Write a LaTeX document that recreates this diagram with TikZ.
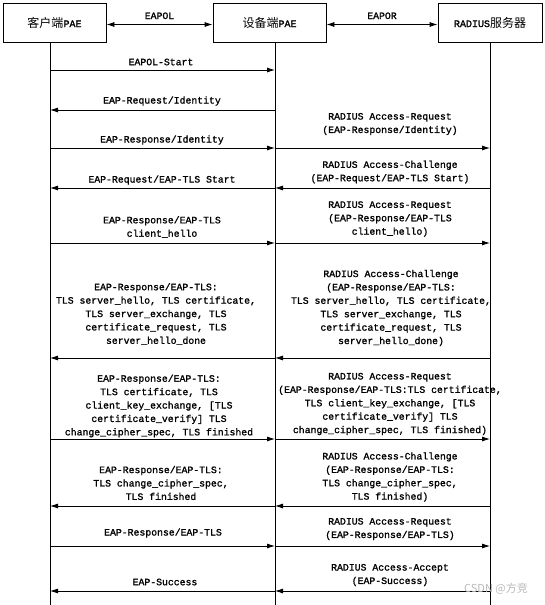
\documentclass[tikz,border=0pt]{standalone}
\usepackage{fontspec}
\setmainfont{Liberation Mono}[FakeBold=1.3]
\newfontfamily\cjk{Noto Sans CJK SC}[Scale=1.2]
\newfontfamily\wmfont{Noto Sans CJK SC}
\usetikzlibrary{arrows.meta}
\begin{document}
\begin{tikzpicture}[x=1pt,y=-1pt,
  actor/.style={draw, line width=0.8pt, minimum height=39pt, inner sep=0pt,
    font=\fontsize{10}{12}\selectfont},
  life/.style={line width=0.8pt},
  msg/.style={line width=0.8pt, -{Latex[length=8pt,width=5pt]}},
  twoway/.style={line width=0.8pt, {Latex[length=8pt,width=5pt]}-{Latex[length=8pt,width=5pt]}},
  lbl/.style={font=\fontsize{9.8}{13.4}\selectfont, align=center, inner sep=0pt}]
\useasboundingbox (0,0) rectangle (545,605);

% actors
\node[actor, minimum width=103pt] (cli) at (54.5,22.5) {{\cjk 客户端}PAE};
\node[actor, minimum width=113pt] (dev) at (269.5,22.5) {{\cjk 设备端}PAE};
\node[actor, minimum width=104pt] (rad) at (490,22.5) {RADIUS{\cjk 服务器}};

% lifeline coordinates
\coordinate (L1) at (50,605);
\coordinate (L2) at (275,605);
\coordinate (L3) at (490,605);
\draw[life] (cli.south -| L1) -- (L1);
\draw[life] (dev.south -| L2) -- (L2);
\draw[life] (rad.south -| L3) -- (L3);

% top protocol arrows
\draw[twoway] ([yshift=-2pt]cli.east) -- node[lbl, above=5pt] (eapol) {EAPOL} ([yshift=-2pt]dev.west);
\draw[twoway] ([yshift=-2pt]dev.east) -- node[lbl, above=5pt] (eapor) {EAPOR} ([yshift=-2pt]rad.west);

% left column messages
\node[lbl] (m1) at (161,62) {EAPOL-Start};
\draw[msg] (L1 |- 0,70) -- (L2 |- 0,70);

\node[lbl] (m2) at (162,101) {EAP-Request/Identity};
\draw[msg] (L2 |- 0,110) -- (L1 |- 0,110);

\node[lbl] (m3) at (162,140) {EAP-Response/Identity};
\draw[msg] (L1 |- 0,148) -- (L2 |- 0,148);

\node[lbl] (m4) at (162,180) {EAP-Request/EAP-TLS Start};
\draw[msg] (L2 |- 0,188) -- (L1 |- 0,188);

\node[lbl] (m5) at (162,227) {EAP-Response/EAP-TLS\\client\_hello};
\draw[msg] (L1 |- 0,243) -- (L2 |- 0,243);

\node[lbl] (m6) at (156,314) {EAP-Response/EAP-TLS:\\TLS server\_hello, TLS certificate,\\TLS server\_exchange, TLS\\certificate\_request, TLS\\server\_hello\_done};
\draw[msg] (L2 |- 0,358) -- (L1 |- 0,358);

\node[lbl] (m7) at (159,406) {EAP-Response/EAP-TLS:\\TLS certificate, TLS\\client\_key\_exchange, [TLS\\certificate\_verify] TLS\\change\_cipher\_spec, TLS finished};
\draw[msg] (L1 |- 0,439) -- (L2 |- 0,439);

\node[lbl] (m8) at (161,483) {EAP-Response/EAP-TLS:\\TLS change\_cipher\_spec,\\TLS finished};
\draw[msg] (L2 |- 0,506) -- (L1 |- 0,506);

\node[lbl] (m9) at (163,533) {EAP-Response/EAP-TLS};
\draw[msg] (L1 |- 0,546) -- (L2 |- 0,546);

\node[lbl] (m10) at (165,582) {EAP-Success};
\draw[msg] (L2 |- 0,591) -- (L1 |- 0,591);

% right column messages
\node[lbl] (r3) at (390,124) {RADIUS Access-Request\\(EAP-Response/Identity)};
\draw[msg] (L2 |- 0,148) -- (L3 |- 0,148);

\node[lbl] (r4) at (390,172) {RADIUS Access-Challenge\\(EAP-Request/EAP-TLS Start)};
\draw[msg] (L3 |- 0,188) -- (L2 |- 0,188);

\node[lbl] (r5) at (390,219) {RADIUS Access-Request\\(EAP-Response/EAP-TLS\\client\_hello)};
\draw[msg] (L2 |- 0,243) -- (L3 |- 0,243);

\node[lbl] (r6) at (391,308) {RADIUS Access-Challenge\\(EAP-Response/EAP-TLS:\\TLS server\_hello, TLS certificate,\\TLS server\_exchange, TLS\\certificate\_request, TLS\\server\_hello\_done)};
\draw[msg] (L3 |- 0,358) -- (L2 |- 0,358);

\node[lbl] (r7) at (390,404) {RADIUS Access-Request\\(EAP-Response/EAP-TLS:TLS certificate,\\TLS client\_key\_exchange, [TLS\\certificate\_verify] TLS\\change\_cipher\_spec, TLS finished)};
\draw[msg] (L2 |- 0,439) -- (L3 |- 0,439);

\node[lbl] (r8) at (390,477) {RADIUS Access-Challenge\\(EAP-Response/EAP-TLS:\\TLS change\_cipher\_spec,\\TLS finished)};
\draw[msg] (L3 |- 0,506) -- (L2 |- 0,506);

\node[lbl] (r9) at (390,529) {RADIUS Access-Request\\(EAP-Response/EAP-TLS)};
\draw[msg] (L2 |- 0,546) -- (L3 |- 0,546);

\node[lbl] (r10) at (390,575) {RADIUS Access-Accept\\(EAP-Success)};
\draw[msg] (L3 |- 0,591) -- (L2 |- 0,591);

% watermark
\node[inner sep=0pt, text=gray!55, font=\wmfont\fontsize{11}{11}\selectfont] (wm) at (496,589) {CSDN @方竞};
\end{tikzpicture}
\end{document}
